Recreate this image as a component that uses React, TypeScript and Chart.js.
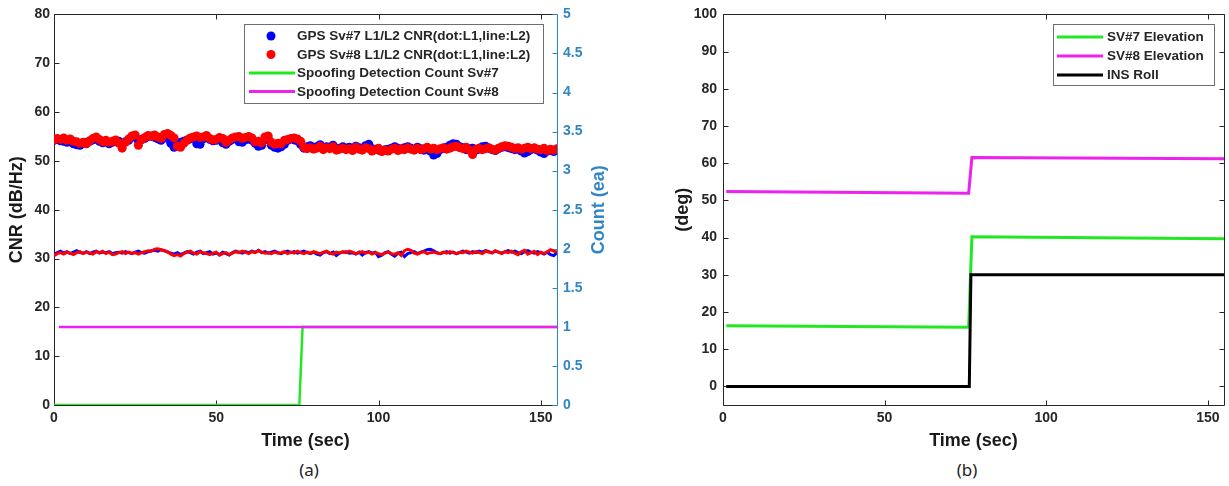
import React, { useEffect, useRef } from 'react';
import { Chart, registerables } from 'chart.js';

Chart.register(...registerables);

// ---------- DATA ----------
const timeSec = [
  0, 1, 2, 3, 4, 5, 6, 7, 8, 9, 10, 11, 12, 13, 14, 15, 16, 17, 18, 19,
  20, 21, 22, 23, 24, 25, 26, 27, 28, 29, 30, 31, 32, 33, 34, 35, 36, 37, 38, 39,
  40, 41, 42, 43, 44, 45, 46, 47, 48, 49, 50, 51, 52, 53, 54, 55, 56, 57, 58, 59,
  60, 61, 62, 63, 64, 65, 66, 67, 68, 69, 70, 71, 72, 73, 74, 75, 76, 77, 78, 79,
  80, 81, 82, 83, 84, 85, 86, 87, 88, 89, 90, 91, 92, 93, 94, 95, 96, 97, 98, 99,
  100, 101, 102, 103, 104, 105, 106, 107, 108, 109, 110, 111, 112, 113, 114, 115, 116, 117, 118, 119,
  120, 121, 122, 123, 124, 125, 126, 127, 128, 129, 130, 131, 132, 133, 134, 135, 136, 137, 138, 139,
  140, 141, 142, 143, 144, 145, 146, 147, 148, 149, 150, 151, 152, 153, 154, 155,
];

const sv7L1 = [
  54.2, 54.4, 54.1, 54.0, 53.8, 53.9, 53.5, 53.3, 53.2, 53.6,
  53.8, 54.0, 54.3, 54.5, 54.0, 53.7, 53.9, 53.5, 53.8, 54.1,
  54.0, 53.4, 53.9, 54.2, 54.8, 55.0, 54.1, 54.4, 54.6, 55.0,
  55.1, 54.8, 54.5, 54.2, 54.9, 54.6, 53.6, 52.8, 53.4, 53.8,
  54.0, 54.3, 54.5, 54.7, 53.5, 53.4, 54.5, 54.9, 54.4, 54.1,
  54.2, 54.5, 53.7, 53.4, 54.0, 54.4, 54.6, 53.9, 53.8, 54.3,
  54.5, 54.2, 53.6, 53.0, 53.2, 54.3, 54.6, 53.2, 52.8, 52.6,
  52.9, 53.4, 54.2, 54.5, 54.3, 54.1, 53.4, 52.6, 52.9, 53.1,
  52.8, 52.9, 53.3, 52.7, 52.9, 52.8, 53.2, 52.6, 52.5, 52.9,
  52.6, 52.8, 52.4, 53.0, 52.7, 52.6, 53.1, 53.4, 52.5, 52.4,
  52.2, 52.0, 52.3, 52.4, 52.6, 52.9, 52.6, 52.4, 52.7, 52.9,
  52.6, 52.4, 52.8, 52.5, 52.2, 52.5, 52.0, 51.2, 51.5, 52.3,
  52.6, 52.8, 53.2, 53.5, 53.4, 52.9, 52.7, 52.3, 52.5, 52.6,
  52.2, 52.4, 52.9, 53.0, 52.6, 52.3, 52.1, 52.5, 52.8, 52.9,
  52.7, 52.5, 52.3, 52.4, 52.0, 51.6, 51.9, 52.3, 52.5, 52.2,
  51.8, 51.5, 52.0, 52.2, 51.9, 52.3,
];

const sv8L1 = [
  54.3, 54.6, 54.4, 54.7, 54.2, 54.5, 54.0, 53.9, 53.6, 53.8,
  53.5, 54.1, 54.6, 54.9, 54.4, 53.9, 54.2, 53.8, 54.0, 54.3,
  53.6, 52.6, 53.8, 54.5, 55.1, 55.3, 53.2, 54.3, 54.8, 55.2,
  55.0, 55.3, 54.9, 54.6, 55.4, 55.6, 55.2, 54.7, 53.0, 52.8,
  53.6, 54.2, 54.7, 54.9, 55.1, 54.8, 54.9, 55.2, 54.6, 54.3,
  54.4, 54.8, 54.6, 53.8, 54.3, 54.7, 54.9, 55.0, 54.6, 54.8,
  55.0, 54.7, 53.9, 54.0, 53.7, 54.9, 55.1, 53.8, 53.4, 53.6,
  53.5, 54.2, 54.4, 54.6, 54.7, 54.5, 54.0, 52.8, 52.5, 52.7,
  52.4, 52.6, 53.0, 52.3, 52.7, 52.5, 52.9, 52.2, 52.4, 52.6,
  52.3, 52.5, 52.1, 52.8, 52.4, 52.2, 52.7, 52.5, 52.0, 52.3,
  52.6, 51.9, 52.2, 52.0, 52.4, 52.6, 52.1, 52.5, 52.3, 52.7,
  52.4, 52.2, 52.6, 52.3, 52.5, 52.8, 52.4, 52.6, 52.3, 52.5,
  52.7, 52.4, 52.6, 52.9, 53.0, 52.7, 52.5, 52.8, 52.2, 51.3,
  52.4, 52.6, 52.3, 52.5, 52.7, 52.4, 52.2, 52.6, 52.9, 53.1,
  53.0, 52.8, 52.5, 52.7, 52.4, 52.6, 52.8, 52.5, 52.7, 52.4,
  52.3, 52.6, 52.1, 52.4, 52.2, 52.5,
];

const sv7L2 = [
  30.9, 31.2, 31.5, 31.1, 31.4, 31.0, 31.3, 31.6, 31.2, 31.1,
  31.4, 31.0, 31.3, 31.5, 31.1, 31.3, 31.2, 31.4, 31.0, 31.2,
  31.3, 31.1, 31.4, 31.2, 31.0, 31.3, 31.5, 31.2, 31.1, 31.4,
  31.6, 31.7, 31.5, 31.8, 31.6, 31.3, 31.1, 30.9, 31.2, 30.8,
  31.1, 31.4, 31.2, 30.9, 31.3, 31.5, 31.0, 31.2, 31.4, 30.9,
  31.1, 30.8, 31.3, 31.0, 30.7, 31.2, 31.5, 31.3, 31.1, 31.4,
  31.2, 31.5, 31.3, 31.7, 31.2, 31.4, 31.1, 31.3, 31.5, 31.2,
  31.0, 31.3, 31.5, 31.2, 31.4, 31.1, 31.3, 31.5, 31.2, 31.0,
  31.3, 30.9, 30.7, 31.2, 31.4, 31.0, 31.3, 30.6, 31.1, 31.3,
  31.4, 31.1, 31.2, 30.9, 31.3, 30.7, 31.2, 31.4, 31.1, 31.3,
  30.4, 30.7, 31.2, 31.4, 30.9, 30.5, 31.1, 31.3, 30.4, 31.0,
  31.2, 31.4, 31.0, 31.3, 31.5, 31.8, 31.9, 31.6, 31.2, 31.0,
  31.2, 31.4, 31.1, 31.3, 31.0, 31.2, 31.5, 31.3, 31.1, 31.4,
  31.2, 31.5, 31.3, 31.6, 31.4, 31.2, 31.5, 31.3, 31.1, 31.4,
  31.6, 31.3, 31.5, 31.2, 31.0, 31.4, 31.6, 31.3, 31.1, 31.4,
  31.2, 30.9, 31.3, 30.8, 30.6, 31.2,
];

const sv8L2 = [
  30.6, 31.0, 31.2, 30.9, 31.3, 31.1, 30.8, 31.2, 31.4, 31.0,
  31.3, 31.1, 30.9, 31.4, 31.2, 31.5, 31.0, 31.3, 30.8, 30.9,
  31.2, 31.4, 31.0, 31.3, 31.1, 31.2, 30.9, 31.2, 31.4, 31.6,
  31.5, 31.9, 32.0, 31.8, 31.6, 31.4, 30.9, 30.6, 30.8, 30.5,
  31.0, 31.3, 31.5, 31.1, 30.9, 31.4, 31.2, 31.0, 30.8, 31.1,
  31.3, 30.7, 31.0, 31.2, 30.8, 31.1, 31.4, 31.2, 31.5, 31.3,
  31.0, 31.4, 31.2, 31.6, 31.3, 31.1, 31.2, 31.0, 31.3, 31.1,
  31.2, 31.4, 31.0, 31.3, 31.1, 31.5, 31.2, 31.0, 31.3, 31.1,
  31.4, 31.2, 31.0, 31.3, 31.5, 31.1, 30.9, 31.3, 31.1, 31.4,
  31.2, 31.5, 31.3, 31.0, 31.2, 31.4, 31.1, 31.3, 30.9, 31.2,
  31.0, 30.8, 31.1, 31.3, 31.0, 30.9, 31.2, 30.6, 31.6, 31.9,
  31.7, 31.1, 30.9, 31.2, 31.4, 31.0, 31.2, 31.3, 31.1, 31.0,
  31.3, 31.1, 31.4, 31.2, 31.0, 31.3, 31.2, 31.5, 31.3, 31.1,
  31.4, 31.2, 31.0, 31.5, 31.3, 31.1, 31.6, 31.3, 31.0, 31.4,
  31.2, 31.5, 31.1, 30.8, 31.4, 31.7, 30.9, 31.2, 31.5, 30.8,
  31.3, 31.0, 31.4, 31.8, 31.5, 31.3,
];

const countTime7 = [0, 75.6, 76.6, 155];
const count7 = [0, 0, 1, 1];
const countTime8 = [1.5, 155];
const count8 = [1, 1];

const elevTime = [1, 76, 77, 155];
const sv7Elev = [16.3, 15.9, 40.2, 39.7];
const sv8Elev = [52.4, 51.9, 61.5, 61.2];
const rollTime = [1, 76.2, 76.7, 155];
const insRoll = [0, 0, 30, 30];

const legendA = [
  'GPS Sv#7 L1/L2 CNR(dot:L1,line:L2)',
  'GPS Sv#8 L1/L2 CNR(dot:L1,line:L2)',
  'Spoofing Detection Count Sv#7',
  'Spoofing Detection Count Sv#8',
];
const legendB = ['SV#7 Elevation', 'SV#8 Elevation', 'INS Roll'];

const captionA = '(a)';
const captionB = '(b)';

// ---------- STYLE ----------
const DARK = '#262626';
const AXIS_BLUE = '#2f86c4';
const BLUE = '#0000ff';
const RED = '#ff0000';
const GREEN = '#22e822';
const MAGENTA = '#ee22ee';
const BLACK = '#000000';
const FONT = "'Liberation Sans', Arial, Helvetica, sans-serif";

const pts = (xs: number[], ys: number[]) => xs.map((x, i) => ({ x, y: ys[i] }));

const tickFont = { family: FONT, size: 14, weight: 'bold' as const };
const titleFont = { family: FONT, size: 18, weight: 'bold' as const };

const crisp = (v: number) => Math.round(v) + 0.5;

function framePlugin(rightScaleId: string, rightColor: string) {
  return {
    id: 'frameTicks',
    beforeDatasetsDraw(chart: any) {
      const { ctx, chartArea } = chart;
      const { left, right, top, bottom } = chartArea;
      const L = crisp(left), R = crisp(right), T = crisp(top), B = crisp(bottom);
      const xs = chart.scales.x;
      const ys = chart.scales.y;
      const rs = chart.scales[rightScaleId];
      const len = 5;
      ctx.save();
      ctx.lineWidth = 1;
      ctx.strokeStyle = DARK;
      ctx.beginPath();
      ctx.moveTo(L, T); ctx.lineTo(R, T);
      ctx.moveTo(L, T); ctx.lineTo(L, B);
      ctx.moveTo(L, B); ctx.lineTo(R, B);
      for (const t of xs.ticks) {
        const px = crisp(xs.getPixelForValue(t.value));
        ctx.moveTo(px, B); ctx.lineTo(px, B - len);
        ctx.moveTo(px, T); ctx.lineTo(px, T + len);
      }
      for (const t of ys.ticks) {
        const py = crisp(ys.getPixelForValue(t.value));
        ctx.moveTo(L, py); ctx.lineTo(L + len, py);
      }
      ctx.stroke();
      ctx.strokeStyle = rightColor;
      ctx.beginPath();
      ctx.moveTo(R, T); ctx.lineTo(R, B);
      for (const t of rs.ticks) {
        const py = crisp(rs.getPixelForValue(t.value));
        ctx.moveTo(R, py); ctx.lineTo(R - len, py);
      }
      ctx.stroke();
      ctx.restore();
    },
  };
}

type LegendItem = { text: string; color: string; kind: 'dot' | 'line' };
function legendPlugin(cfg: {
  box: [number, number, number, number];
  rows: number[];
  lineX: [number, number];
  dotX: number;
  textX: number;
  items: LegendItem[];
}) {
  return {
    id: 'insideLegend',
    afterDraw(chart: any) {
      const { ctx } = chart;
      const [x0, y0, x1, y1] = cfg.box;
      ctx.save();
      ctx.fillStyle = '#ffffff';
      ctx.fillRect(x0, y0, x1 - x0, y1 - y0);
      ctx.strokeStyle = '#6e6e6e';
      ctx.lineWidth = 1;
      ctx.strokeRect(x0 + 0.5, y0 + 0.5, x1 - x0, y1 - y0);
      ctx.font = `bold 13.5px ${FONT}`;
      ctx.textBaseline = 'middle';
      ctx.textAlign = 'left';
      cfg.items.forEach((it, i) => {
        const y = cfg.rows[i];
        if (it.kind === 'dot') {
          ctx.fillStyle = it.color;
          ctx.beginPath();
          ctx.arc(cfg.dotX, y, 4.5, 0, Math.PI * 2);
          ctx.fill();
        } else {
          ctx.strokeStyle = it.color;
          ctx.lineWidth = 3;
          ctx.beginPath();
          ctx.moveTo(cfg.lineX[0], y);
          ctx.lineTo(cfg.lineX[1], y);
          ctx.stroke();
        }
        ctx.fillStyle = DARK;
        ctx.fillText(it.text, cfg.textX, y + 0.5);
      });
      ctx.restore();
    },
  };
}

const rightTitlePlugin = {
  id: 'rightTitle',
  afterDraw(chart: any) {
    const { ctx, chartArea } = chart;
    ctx.save();
    ctx.translate(599, (chartArea.top + chartArea.bottom) / 2);
    ctx.rotate(-Math.PI / 2);
    ctx.font = `bold 18px ${FONT}`;
    ctx.fillStyle = AXIS_BLUE;
    ctx.textAlign = 'center';
    ctx.textBaseline = 'middle';
    ctx.fillText('Count (ea)', 0, 0);
    ctx.restore();
  },
};

function ChartA() {
  const ref = useRef<HTMLCanvasElement>(null);
  useEffect(() => {
    if (!ref.current) return;
    const chart = new Chart(ref.current, {
      type: 'line',
      data: {
        datasets: [
          { label: legendA[0], data: pts(timeSec, sv7L1), yAxisID: 'y', showLine: false, pointRadius: 4.5, pointBorderWidth: 0, pointBackgroundColor: BLUE, borderColor: BLUE, order: 6 },
          { label: legendA[1], data: pts(timeSec, sv8L1), yAxisID: 'y', showLine: false, pointRadius: 4.5, pointBorderWidth: 0, pointBackgroundColor: RED, borderColor: RED, order: 5 },
          { label: 'Sv#7 L2', data: pts(timeSec, sv7L2), yAxisID: 'y', borderColor: BLUE, borderWidth: 3, pointRadius: 0, tension: 0, order: 4 },
          { label: 'Sv#8 L2', data: pts(timeSec, sv8L2), yAxisID: 'y', borderColor: RED, borderWidth: 3, pointRadius: 0, tension: 0, order: 3 },
          { label: legendA[2], data: pts(countTime7, count7), yAxisID: 'y1', borderColor: GREEN, borderWidth: 2.5, pointRadius: 0, tension: 0, order: 2 },
          { label: legendA[3], data: pts(countTime8, count8), yAxisID: 'y1', borderColor: MAGENTA, borderWidth: 2.5, pointRadius: 0, tension: 0, order: 1 },
        ] as any,
      },
      options: {
        animation: false,
        responsive: false,
        events: [],
        layout: { padding: { top: 14, left: 0, right: 0, bottom: 0 } },
        plugins: { legend: { display: false }, tooltip: { enabled: false } },
        scales: {
          x: {
            type: 'linear', min: 0, max: 155,
            ticks: { stepSize: 50, includeBounds: false, padding: 5, font: tickFont, color: DARK, maxRotation: 0 },
            grid: { display: false, drawTicks: false }, border: { display: false },
            title: { display: true, text: 'Time (sec)', font: titleFont, color: '#1a1a1a', padding: { top: 0, bottom: 3 } },
            afterFit: (s: any) => { s.height = 50; },
          },
          y: {
            type: 'linear', position: 'left', min: 0, max: 80,
            ticks: { stepSize: 10, padding: 4, font: tickFont, color: DARK },
            grid: { display: false, drawTicks: false }, border: { display: false },
            title: { display: true, text: 'CNR (dB/Hz)', font: titleFont, color: '#1a1a1a', padding: { top: 6, bottom: 0 } },
            afterFit: (s: any) => { s.width = 54; },
          },
          y1: {
            type: 'linear', position: 'right', min: 0, max: 5,
            ticks: { stepSize: 0.5, padding: 6, font: tickFont, color: AXIS_BLUE, callback: (v: any) => `${+v}` },
            grid: { display: false, drawTicks: false }, border: { display: false },
            afterFit: (s: any) => { s.width = 63; },
          },
        } as any,
      },
      plugins: [
        framePlugin('y1', AXIS_BLUE),
        legendPlugin({
          box: [244, 24, 543, 103],
          rows: [36, 54.5, 73, 91.5],
          lineX: [249, 295],
          dotX: 271,
          textX: 297,
          items: [
            { text: legendA[0], color: BLUE, kind: 'dot' },
            { text: legendA[1], color: RED, kind: 'dot' },
            { text: legendA[2], color: GREEN, kind: 'line' },
            { text: legendA[3], color: MAGENTA, kind: 'line' },
          ],
        }),
        rightTitlePlugin,
      ],
    });
    return () => chart.destroy();
  }, []);
  return <canvas ref={ref} width={620} height={455} />;
}

function ChartB() {
  const ref = useRef<HTMLCanvasElement>(null);
  useEffect(() => {
    if (!ref.current) return;
    const chart = new Chart(ref.current, {
      type: 'line',
      data: {
        datasets: [
          { label: legendB[0], data: pts(elevTime, sv7Elev), borderColor: GREEN, borderWidth: 3, pointRadius: 0, tension: 0, order: 3 },
          { label: legendB[1], data: pts(elevTime, sv8Elev), borderColor: MAGENTA, borderWidth: 3, pointRadius: 0, tension: 0, order: 2 },
          { label: legendB[2], data: pts(rollTime, insRoll), borderColor: BLACK, borderWidth: 3, pointRadius: 0, tension: 0, order: 1 },
        ] as any,
      },
      options: {
        animation: false,
        responsive: false,
        events: [],
        layout: { padding: { top: 14, left: 0, right: 5, bottom: 0 } },
        plugins: { legend: { display: false }, tooltip: { enabled: false } },
        scales: {
          x: {
            type: 'linear', min: 0, max: 155,
            ticks: { stepSize: 50, includeBounds: false, padding: 5, font: tickFont, color: DARK, maxRotation: 0 },
            grid: { display: false, drawTicks: false }, border: { display: false },
            title: { display: true, text: 'Time (sec)', font: titleFont, color: '#1a1a1a', padding: { top: 0, bottom: 3 } },
            afterFit: (s: any) => { s.height = 50; },
          },
          y: {
            type: 'linear', position: 'left', min: -5, max: 100,
            ticks: { stepSize: 10, includeBounds: false, padding: 6, font: tickFont, color: DARK },
            grid: { display: false, drawTicks: false }, border: { display: false },
            title: { display: true, text: '(deg)', font: titleFont, color: '#1a1a1a', padding: { top: 52, bottom: 0 } },
            afterFit: (s: any) => { s.width = 103; },
          },
        } as any,
      },
      plugins: [
        framePlugin('y', DARK),
        legendPlugin({
          box: [433, 24, 594, 85],
          rows: [37, 56, 75],
          lineX: [437, 483],
          dotX: 460,
          textX: 487,
          items: [
            { text: legendB[0], color: GREEN, kind: 'line' },
            { text: legendB[1], color: MAGENTA, kind: 'line' },
            { text: legendB[2], color: BLACK, kind: 'line' },
          ],
        }),
      ],
    });
    return () => chart.destroy();
  }, []);
  return <canvas ref={ref} width={609} height={455} />;
}

const captionStyle: React.CSSProperties = {
  position: 'absolute',
  width: 100,
  textAlign: 'center',
  top: 459,
  fontFamily: "'Noto Sans', 'Open Sans', sans-serif",
  fontSize: 17,
  lineHeight: '22px',
  color: '#222',
};

export default function App() {
  return (
    <div style={{ position: 'absolute', left: 0, top: 0, width: 1229, height: 486, background: '#ffffff', overflow: 'hidden' }}>
      <div style={{ position: 'absolute', left: 0, top: 0 }}>
        <ChartA />
      </div>
      <div style={{ position: 'absolute', left: 620, top: 0 }}>
        <ChartB />
      </div>
      <div style={{ ...captionStyle, left: 259 }}>{captionA}</div>
      <div style={{ ...captionStyle, left: 917 }}>{captionB}</div>
    </div>
  );
}
